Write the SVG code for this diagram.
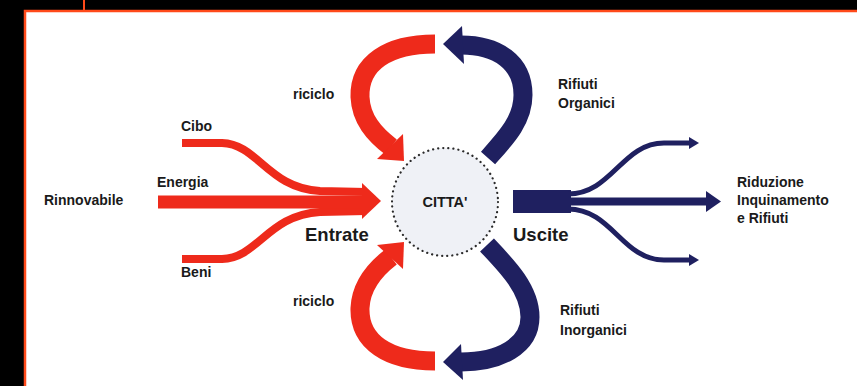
<svg xmlns="http://www.w3.org/2000/svg" width="857" height="386" viewBox="0 0 857 386">
<style>
.lbl{font-family:"Liberation Sans",Arial,sans-serif;font-weight:bold;font-size:14px;fill:#1a1a1a}
.big{font-size:18.5px}
.red{fill:none;stroke:#ee2a1b}
.navy{fill:none;stroke:#1f2060}
.rf{fill:#ee2a1b}
.nf{fill:#1f2060}
</style>
<rect x="0" y="0" width="857" height="386" fill="#000"/>
<line x1="84" y1="0" x2="84" y2="11" stroke="#ff4a1a" stroke-width="2"/>
<rect x="25" y="11" width="840" height="380" fill="#fff" stroke="#ff4a1a" stroke-width="2.5"/>

<g id="connectors">
  <!-- inputs -->
  <path class="red" stroke-width="8" d="M182,143 L222,143 C258,144 268,188 320,191 L366,192"/>
  <path class="red" stroke-width="8" d="M182,259 L222,259 C258,258 268,215 320,212 L366,211"/>
  <path class="red" stroke-width="13" d="M158,202 L366,202"/>
  <polygon class="rf" points="362,183 381,201 362,219"/>
  <!-- outputs -->
  <rect class="nf" x="513" y="190" width="58" height="23"/>
  <path class="navy" stroke-width="8" d="M568,201.5 L708,201.5"/>
  <polygon class="nf" points="706,191 721,201.5 706,212"/>
  <path class="navy" stroke-width="5" d="M568,194 C612,194 622,143 664,143 L692,143"/>
  <polygon class="nf" points="689,137 699,143 689,149"/>
  <path class="navy" stroke-width="5" d="M568,209 C612,209 622,260 664,260 L692,260"/>
  <polygon class="nf" points="689,254 699,260 689,266"/>
  <!-- top recycle (red) -->
  <path class="red" stroke-width="19" d="M435,44 C388,44 359,63 360,97 C361,119 374,134 391,147"/>
  <polygon class="rf" points="403,134 377,159 404,161"/>
  <!-- top organic (navy) -->
  <path class="navy" stroke-width="19" d="M488,158 C506,138 523,120 523,95 C523,62 497,45 461,45"/>
  <polygon class="nf" points="443,44 462,26 464,64"/>
  <!-- bottom recycle (red) -->
  <path class="red" stroke-width="19" d="M435,361 C388,361 359,342 360,308 C361,286 374,270 391,257"/>
  <polygon class="rf" points="403,269 377,245 404,242"/>
  <!-- bottom inorganic (navy) -->
  <path class="navy" stroke-width="19" d="M487,245 C508,267 530,290 530,317 C530,346 500,362 461,362"/>
  <polygon class="nf" points="443,362 461,344 463,380"/>
</g>

<g id="citta">
  <ellipse cx="445" cy="202" rx="53" ry="54" fill="#eff1f6" stroke="#2a2a2a" stroke-width="2.2" stroke-dasharray="0.1,5" stroke-linecap="round"/>
  <text class="lbl" x="445" y="207" text-anchor="middle" style="font-size:14.5px">CITTA'</text>
</g>

<g id="labels">
  <text class="lbl" x="44" y="205">Rinnovabile</text>
  <text class="lbl" x="181" y="131">Cibo</text>
  <text class="lbl" x="157" y="187">Energia</text>
  <text class="lbl" x="181" y="277">Beni</text>
  <text class="lbl big" x="305" y="241">Entrate</text>
  <text class="lbl big" x="513" y="241">Uscite</text>
  <text class="lbl" x="293" y="99">riciclo</text>
  <text class="lbl" x="293" y="306">riciclo</text>
  <text class="lbl" x="558" y="89">Rifiuti</text>
  <text class="lbl" x="558" y="108">Organici</text>
  <text class="lbl" x="560" y="315">Rifiuti</text>
  <text class="lbl" x="560" y="335">Inorganici</text>
  <text class="lbl" x="737" y="187">Riduzione</text>
  <text class="lbl" x="737" y="205">Inquinamento</text>
  <text class="lbl" x="737" y="223">e Rifiuti</text>
</g>
</svg>
